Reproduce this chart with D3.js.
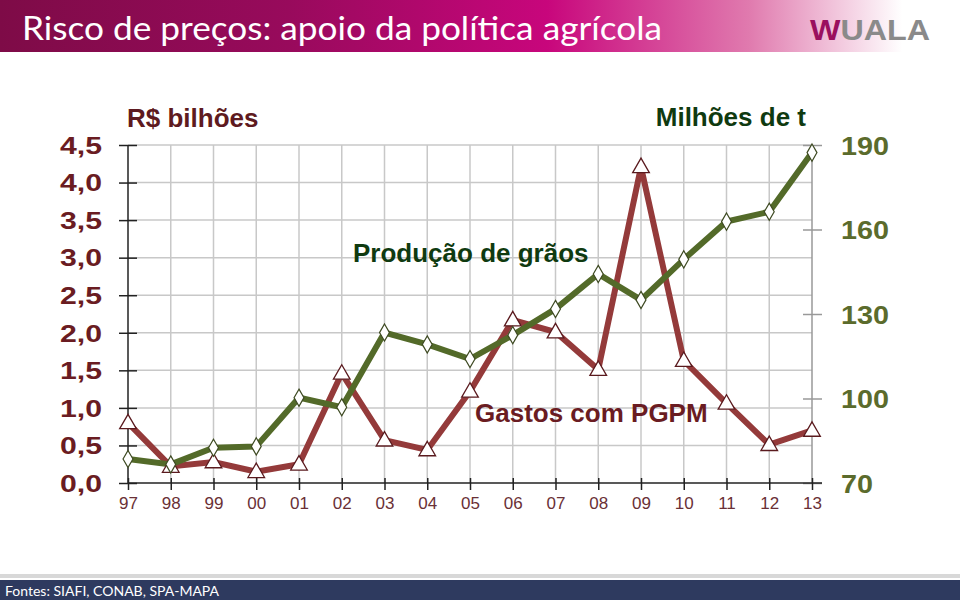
<!DOCTYPE html>
<html>
<head>
<meta charset="utf-8">
<script src="https://cdn.jsdelivr.net/npm/d3@7"></script>
<style>
  body { margin: 0; background: #fff; }
  svg { display: block; }
</style>
</head>
<body>
<svg id="chart" width="960" height="600"></svg>
<script>
var years = ["97","98","99","00","01","02","03","04","05","06","07","08","09","10","11","12","13"];
// R$ bilhões (left axis)
var gastos = [0.80,0.22,0.28,0.15,0.25,1.46,0.57,0.44,1.22,2.17,2.01,1.51,4.21,1.63,1.06,0.51,0.70];
// milhões de t (right axis)
var producao = [78.5,76.6,82.5,83.0,100.3,96.9,123.4,119.2,114.0,122.5,131.8,144.2,135.0,149.4,162.8,166.3,187.3];
var leftTicks = [0,0.5,1,1.5,2,2.5,3,3.5,4,4.5];
var rightTicks = [70,100,130,160,190];

var svg = d3.select("#chart");
var fmt = function(d) { return d3.format(".1f")(d).replace(".", ","); };
var arial = "'Liberation Sans', Arial, sans-serif";

// header
var defs = svg.append("defs");
var grad = defs.append("linearGradient").attr("id", "hdr");
grad.append("stop").attr("offset", "0%").attr("stop-color", "#7e0b47");
grad.append("stop").attr("offset", "30%").attr("stop-color", "#980a5c");
grad.append("stop").attr("offset", "57%").attr("stop-color", "#c8067c");
grad.append("stop").attr("offset", "78%").attr("stop-color", "#e07aae");
grad.append("stop").attr("offset", "94%").attr("stop-color", "#ffffff");
svg.append("rect").attr("width", 960).attr("height", 52).attr("fill", "url(#hdr)");
svg.append("text")
  .attr("x", 22).attr("y", 40)
  .attr("fill", "#fff")
  .attr("textLength", 640).attr("lengthAdjust", "spacingAndGlyphs")
  .style("font-family", "Lato, 'Open Sans', sans-serif")
  .style("font-size", "33px")
  .text("Risco de preços: apoio da política agrícola");
var logo = svg.append("text")
  .attr("x", 810).attr("y", 40)
  .attr("textLength", 120).attr("lengthAdjust", "spacingAndGlyphs")
  .style("font-family", arial)
  .style("font-size", "30px").style("font-weight", "bold");
logo.append("tspan").attr("fill", "#9a0f5e").text("W");
logo.append("tspan").attr("fill", "#8a8a8a").text("UALA");

// footer
svg.append("rect").attr("x", 0).attr("y", 574).attr("width", 960).attr("height", 4).attr("fill", "#d8d8d8");
svg.append("rect").attr("x", 0).attr("y", 580).attr("width", 960).attr("height", 20).attr("fill", "#2e3a5f");
svg.append("text")
  .attr("x", 5).attr("y", 596)
  .attr("fill", "#fff")
  .style("font-family", "Lato, 'Open Sans', sans-serif")
  .style("font-size", "14px")
  .text("Fontes: SIAFI, CONAB, SPA-MAPA");

// scales
var x = d3.scalePoint().domain(years).range([128, 812]);
var yL = d3.scaleLinear().domain([0, 4.5]).range([483, 145]);
var yR = d3.scaleLinear().domain([70, 190]).range([483, 145]);

// grid
var grid = svg.append("g").attr("stroke", "#c8c8c8").attr("stroke-width", 1.5);
grid.selectAll(".hg").data(leftTicks.slice(1)).enter().append("line")
  .attr("x1", 128).attr("x2", 812)
  .attr("y1", function(d) { return yL(d); }).attr("y2", function(d) { return yL(d); });
grid.selectAll(".vg").data(years.slice(1, -1)).enter().append("line")
  .attr("x1", function(d) { return x(d); }).attr("x2", function(d) { return x(d); })
  .attr("y1", 145).attr("y2", 483);

// left axis
var axL = svg.append("g").attr("transform", "translate(128,0)")
  .call(d3.axisLeft(yL).tickValues(leftTicks).tickSize(0).tickFormat(fmt));
axL.select(".domain").remove();
axL.selectAll(".tick").append("line").attr("x1", -9).attr("x2", 9).attr("stroke", "#222").attr("stroke-width", 1.5);
axL.append("line").attr("y1", 145).attr("y2", 483).attr("stroke", "#222").attr("stroke-width", 1.5);
axL.selectAll("text")
  .attr("x", -26).attr("dy", "0.36em")
  .attr("textLength", 42).attr("lengthAdjust", "spacingAndGlyphs")
  .attr("fill", "#6a1c22")
  .style("font-family", arial)
  .style("font-size", "23px").style("font-weight", "bold");

// right axis
var axR = svg.append("g").attr("transform", "translate(812,0)")
  .call(d3.axisRight(yR).tickValues(rightTicks).tickSize(0));
axR.select(".domain").remove();
axR.selectAll(".tick").append("line").attr("x1", -9).attr("x2", 10).attr("stroke", "#999").attr("stroke-width", 1.5);
axR.append("line").attr("y1", 145).attr("y2", 483).attr("stroke", "#999").attr("stroke-width", 1.5);
axR.selectAll("text")
  .attr("x", 29).attr("dy", "0.36em")
  .attr("textLength", function(d) { return d < 100 ? 32 : 48; }).attr("lengthAdjust", "spacingAndGlyphs")
  .attr("fill", "#5b6b2c")
  .style("font-family", arial)
  .style("font-size", "25px").style("font-weight", "bold");

// bottom axis
var axB = svg.append("g").attr("transform", "translate(0,483)")
  .call(d3.axisBottom(x).tickSize(0));
axB.select(".domain").remove();
axB.append("line").attr("x1", 128).attr("x2", 822).attr("stroke", "#222").attr("stroke-width", 1.5);
axB.selectAll(".tick").append("line").attr("y1", -5).attr("y2", 7).attr("stroke", "#222").attr("stroke-width", 1.5);
axB.selectAll("text")
  .attr("y", 20).attr("dy", "0.36em")
  .attr("fill", "#6a3036")
  .style("font-family", arial)
  .style("font-size", "17px");

// axis titles
svg.append("text").attr("x", 127).attr("y", 127)
  .attr("fill", "#5e1a20").style("font-family", arial)
  .style("font-size", "26px").style("font-weight", "bold").text("R$ bilhões");
svg.append("text").attr("x", 806).attr("y", 126).attr("text-anchor", "end")
  .attr("fill", "#0f3a10").style("font-family", arial)
  .style("font-size", "26px").style("font-weight", "bold").text("Milhões de t");

// lines
var lineL = d3.line().x(function(d, i) { return x(years[i]); }).y(function(d) { return yL(d); });
var lineR = d3.line().x(function(d, i) { return x(years[i]); }).y(function(d) { return yR(d); });

svg.append("path").datum(gastos).attr("d", lineL)
  .attr("fill", "none").attr("stroke", "#943a3a").attr("stroke-width", 6).attr("stroke-linejoin", "miter");
svg.append("path").datum(producao).attr("d", lineR)
  .attr("fill", "none").attr("stroke", "#536a29").attr("stroke-width", 6).attr("stroke-linejoin", "miter");

// markers
svg.append("g").selectAll("path").data(gastos).enter().append("path")
  .attr("transform", function(d, i) { return "translate(" + x(years[i]) + "," + (yL(d) + 1) + ")"; })
  .attr("d", d3.symbol().type(d3.symbolTriangle).size(120))
  .attr("fill", "#fff").attr("stroke", "#5a1a1e").attr("stroke-width", 1.3);
svg.append("g").selectAll("path").data(producao).enter().append("path")
  .attr("transform", function(d, i) { return "translate(" + x(years[i]) + "," + yR(d) + ")"; })
  .attr("d", d3.symbol().type(d3.symbolDiamond).size(85))
  .attr("fill", "#fff").attr("stroke", "#3e4a22").attr("stroke-width", 1.2);

// series labels
svg.append("text").attr("x", 353).attr("y", 262)
  .attr("fill", "#0f3a10").style("font-family", arial)
  .style("font-size", "26px").style("font-weight", "bold").text("Produção de grãos");
svg.append("text").attr("x", 475).attr("y", 422)
  .attr("fill", "#6a1c22").style("font-family", arial)
  .style("font-size", "26px").style("font-weight", "bold").text("Gastos com PGPM");
</script>
</body>
</html>
